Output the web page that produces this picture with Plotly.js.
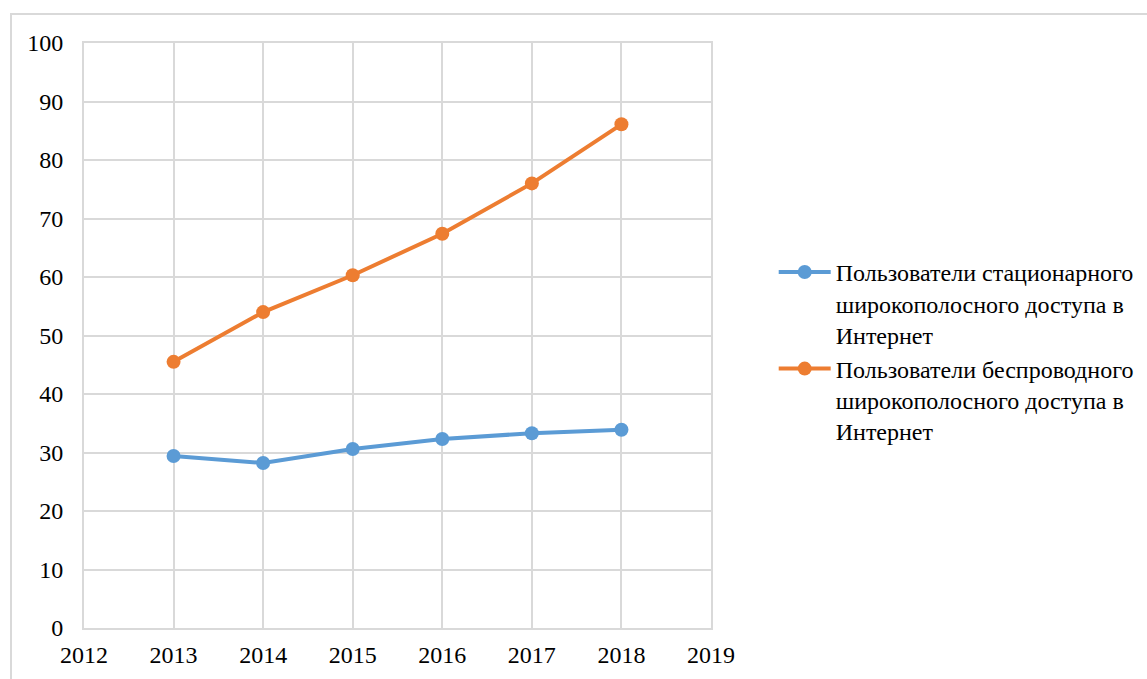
<!DOCTYPE html>
<html><head><meta charset="utf-8">
<script src="https://cdn.plot.ly/plotly-3.0.1.min.js"></script>
<style>
html,body{margin:0;padding:0;background:#fff;overflow:hidden;}
#frame{position:absolute;left:10px;top:13px;width:1200px;height:700px;border:2px solid #d9d9d9;box-sizing:border-box;}
#chart{position:absolute;left:0;top:0;width:1147px;height:679px;}
</style></head>
<body>
<div id="frame"></div>
<div id="chart"></div>
<script>
const years = [2013, 2014, 2015, 2016, 2017, 2018];
const fixedUsers = [29.4, 28.2, 30.6, 32.3, 33.3, 33.9];
const wirelessUsers = [45.5, 54.0, 60.3, 67.4, 76.0, 86.1];
const seriesNames = [
  "Пользователи стационарного<br>широкополосного доступа в<br>Интернет",
  "Пользователи беспроводного<br>широкополосного доступа в<br>Интернет"
];
const traces = [
  {x: years, y: fixedUsers, name: seriesNames[0], type: 'scatter', mode: 'lines+markers',
   line: {color: '#5b9bd5', width: 4}, marker: {color: '#5b9bd5', size: 14}},
  {x: years, y: wirelessUsers, name: seriesNames[1], type: 'scatter', mode: 'lines+markers',
   line: {color: '#ed7d31', width: 4}, marker: {color: '#ed7d31', size: 14}}
];
const fam = 'Liberation Serif, Times New Roman, serif';
function mkFont(sz) { return {family: fam, size: sz, color: '#000'}; }
const layout = {
  width: 1147, height: 679,
  margin: {l: 84, r: 436, t: 43, b: 51, autoexpand: false},
  paper_bgcolor: 'rgba(0,0,0,0)', plot_bgcolor: '#fff',
  font: mkFont(24),
  showlegend: true,
  legend: {x: 1.1, xanchor: 'left', y: 0.472, yanchor: 'middle', valign: 'top',
           font: mkFont(24), tracegroupgap: 6, itemwidth: 52},
  xaxis: {range: [2012, 2019], dtick: 1, tick0: 2012, showgrid: true, gridcolor: '#d9d9d9', gridwidth: 2,
          showline: true, linecolor: '#d9d9d9', linewidth: 2, mirror: true, zeroline: false,
          ticks: '', ticklabelstandoff: 4, tickfont: mkFont(24), fixedrange: true},
  yaxis: {range: [0, 100], dtick: 10, showgrid: true, gridcolor: '#d9d9d9', gridwidth: 2,
          showline: true, linecolor: '#d9d9d9', linewidth: 2, mirror: true, zeroline: false,
          ticks: '', ticklabelstandoff: 14, tickfont: mkFont(24), fixedrange: true}
};
Plotly.newPlot('chart', traces, layout, {displayModeBar: false, staticPlot: true});
</script>
</body></html>
